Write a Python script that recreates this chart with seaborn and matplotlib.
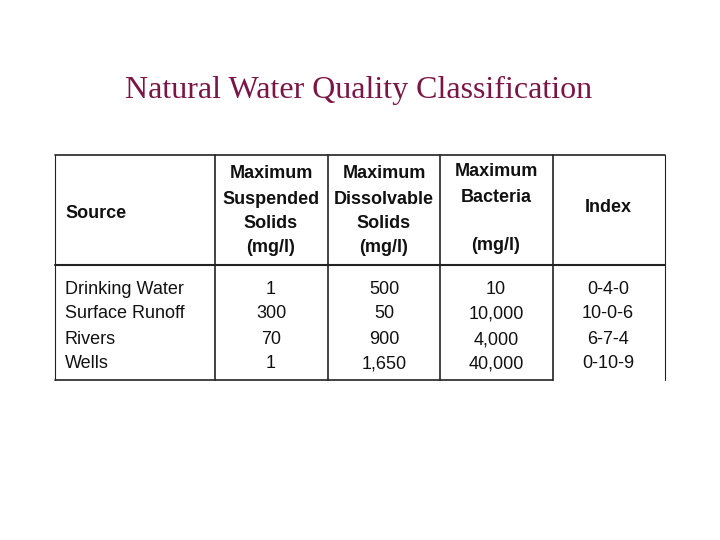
import matplotlib
matplotlib.use("Agg")
import matplotlib.pyplot as plt
import seaborn as sns

sns.set_theme(style="white")
plt.rcParams['font.family'] = ['Liberation Sans', 'DejaVu Sans']

title = "Natural Water Quality Classification"
sources = ["Drinking Water", "Surface Runoff", "Rivers", "Wells"]
suspended = ["1", "300", "70", "1"]
dissolvable = ["500", "50", "900", "1,650"]
bacteria = ["10", "10,000", "4,000", "40,000"]
index = ["0-4-0", "10-0-6", "6-7-4", "0-10-9"]
headers = [["Source"],
           ["Maximum", "Suspended", "Solids", "(mg/l)"],
           ["Maximum", "Dissolvable", "Solids", "(mg/l)"],
           ["Maximum", "Bacteria", "", "(mg/l)"],
           ["Index"]]

fig = plt.figure(figsize=(7.2, 5.4), dpi=100)
ax = fig.add_axes([0, 0, 1, 1])
ax.set_xlim(0, 720); ax.set_ylim(540, 0); ax.axis("off")

ax.text(359, 90, title, ha="center", va="center", fontsize=23,
        family=["Liberation Serif"], color="#7a1545")

lc = "#222222"
ax.plot([55, 665], [155, 155], color=lc, lw=1.2)
ax.plot([55, 665], [265, 265], color=lc, lw=1.5)
ax.plot([55, 553], [380, 380], color=lc, lw=1.2)
ax.plot([55, 55], [155, 380], color=lc, lw=0.8)
ax.plot([665, 665], [155, 380], color=lc, lw=0.8)
for x in [215, 328, 440, 553]:
    ax.plot([x, x], [155, 380], color=lc, lw=1.2)

col_x = [65, 271, 384, 496, 608]
hy = [174, 199, 224, 248]
fs = 13
ax.text(col_x[0], 213, headers[0][0], ha="left", va="center", fontsize=fs, weight="bold", color="#111")
ax.text(col_x[4], 208, headers[4][0], ha="center", va="center", fontsize=fs, weight="bold", color="#111")
for c in (1, 2, 3):
    for i, t in enumerate(headers[c]):
        y = hy[i] - (2 if c == 3 else 0)
        ax.text(col_x[c], y, t, ha="center", va="center", fontsize=fs, weight="bold", color="#111")

ry = [290, 314, 340, 364]
for i in range(len(sources)):
    ax.text(col_x[0], ry[i], sources[i], ha="left", va="center", fontsize=fs, color="#111")
    for c, vals in zip((1, 2, 3, 4), (suspended, dissolvable, bacteria, index)):
        ax.text(col_x[c], ry[i], vals[i], ha="center", va="center", fontsize=fs, color="#111")

fig.savefig("out.png", dpi=100)
